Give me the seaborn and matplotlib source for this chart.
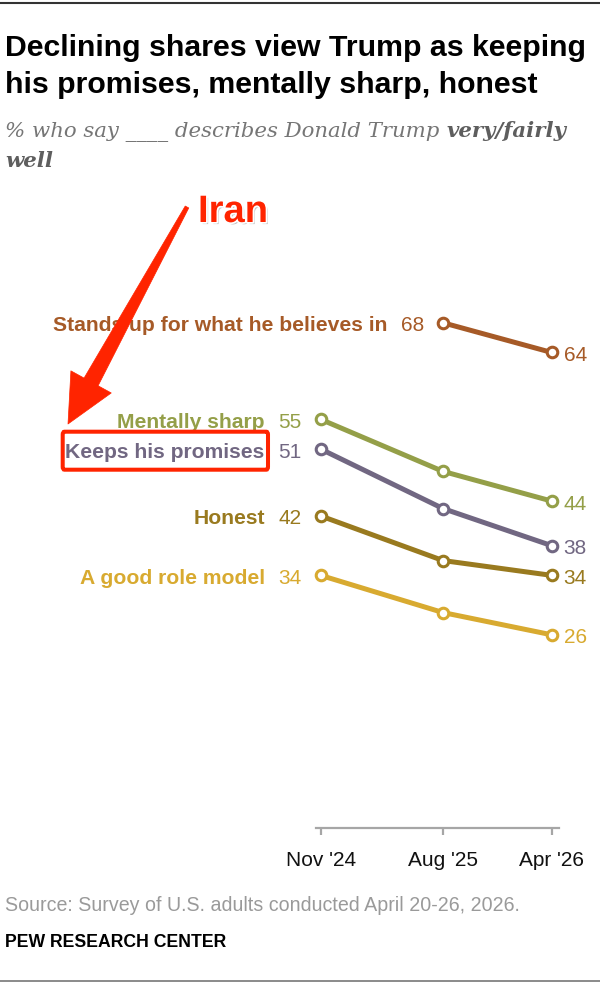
import numpy as np
import pandas as pd
import matplotlib
matplotlib.use("Agg")
import matplotlib.pyplot as plt
import matplotlib.dates as mdates
import matplotlib.patheffects as pe
from matplotlib.patches import Polygon, FancyBboxPatch
from matplotlib.lines import Line2D
import seaborn as sns

# ---------------- data ----------------
survey_dates = ["2024-11-01", "2025-08-01", "2026-04-01"]
tick_labels = ["Nov '24", "Aug '25", "Apr '26"]
traits = ["Stands up for what he believes in", "Mentally sharp",
          "Keeps his promises", "Honest", "A good role model"]
stands_up = [np.nan, 68, 64]
mentally_sharp = [55, 48, 44]
keeps_promises = [51, 43, 38]
honest = [42, 36, 34]
role_model = [34, 29, 26]
trait_colors = ["#A65A27", "#949F48", "#716782", "#997A1F", "#D8AA30"]

title_lines = ["Declining shares view Trump as keeping",
               "his promises, mentally sharp, honest"]
subtitle_plain = "% who say ____ describes Donald Trump "
subtitle_bold1 = "very/fairly"
subtitle_bold2 = "well"
source_text = "Source: Survey of U.S. adults conducted April 20-26, 2026."
org_text = "PEW RESEARCH CENTER"
annot_text = "Iran"
annot_target = "Keeps his promises"

series = [stands_up, mentally_sharp, keeps_promises, honest, role_model]
dates = pd.to_datetime(survey_dates)
df = pd.DataFrame({
    "date": np.tile(dates, len(traits)),
    "value": np.concatenate([np.array(s, dtype=float) for s in series]),
    "trait": np.repeat(traits, len(dates)),
})
palette = dict(zip(traits, trait_colors))

# ---------------- figure ----------------
sns.set_theme(style="white")
plt.rcParams["font.family"] = ["Liberation Sans", "DejaVu Sans"]
W, H = 600, 987
fig = plt.figure(figsize=(W / 100, H / 100), dpi=100)

def fx(x):
    return x / W

def fy(y):
    return 1 - y / H

# pixel geometry of the plotting area
px_first, px_last = 320.7, 551.7     # x pixel of first/last survey date
px_zero, px_per_unit = 829.0, 7.43   # y pixel of value 0, pixels per point
ax_left, ax_right, ax_top = 290, 580, 290

d0 = mdates.date2num(dates[0])
d2 = mdates.date2num(dates[-1])
ppd = (px_last - px_first) / (d2 - d0)
ax = fig.add_axes([fx(ax_left), fy(px_zero), (ax_right - ax_left) / W,
                   (px_zero - ax_top) / H])
ax.set_xlim(d0 - (px_first - ax_left) / ppd, d2 + (ax_right - px_last) / ppd)
ax.set_ylim(0, (px_zero - ax_top) / px_per_unit)

sns.lineplot(data=df.dropna(), x="date", y="value", hue="trait",
             palette=palette, hue_order=traits, ax=ax, legend=False,
             linewidth=3.6, marker="o", markersize=7.6,
             markerfacecolor="white", markeredgewidth=2.2)
for ln in ax.lines:
    ln.set_markeredgecolor(ln.get_color())
    ln.set_clip_on(False)
    ln.set_solid_capstyle("round")

# axis styling
for side in ["top", "right", "left"]:
    ax.spines[side].set_visible(False)
ax.spines["bottom"].set_color("#A6A6A6")
ax.spines["bottom"].set_linewidth(1.6)
ax.spines["bottom"].set_bounds(d0 - 5 / ppd, d2 + 7 / ppd)
ax.set_yticks([])
ax.set_xticks(dates)
ax.set_xticklabels(tick_labels)
ax.tick_params(axis="x", bottom=True, direction="out", length=5, width=1.6,
               color="#A6A6A6", pad=11, labelsize=15, labelcolor="#111111")
ax.set_xlabel("")
ax.set_ylabel("")
ax.patch.set_alpha(0)

# ---------------- end labels ----------------
for name, vals, col in zip(traits, series, trait_colors):
    vals = np.array(vals, dtype=float)
    idx = np.where(~np.isnan(vals))[0]
    i0, i1 = idx[0], idx[-1]
    ax.annotate(f"{int(vals[i0])}", xy=(dates[i0], vals[i0]), xytext=(-19, 0),
                textcoords="offset pixels", ha="right", va="center_baseline",
                fontsize=15, color=col, annotation_clip=False)
    ax.annotate(name, xy=(dates[i0], vals[i0]), xytext=(-56, 0),
                textcoords="offset pixels", ha="right", va="center_baseline",
                fontsize=15.2, fontweight="bold", color=col,
                annotation_clip=False)
    ax.annotate(f"{int(vals[i1])}", xy=(dates[i1], vals[i1]), xytext=(12, 0),
                textcoords="offset pixels", ha="left", va="center_baseline",
                fontsize=15, color=col, annotation_clip=False)

# ---------------- header / footer ----------------
fig.add_artist(Line2D([0, 1], [fy(4), fy(4)], color="#333333", lw=1.5,
                      transform=fig.transFigure))
fig.add_artist(Line2D([0, 1], [fy(982), fy(982)], color="#777777", lw=1.2,
                      transform=fig.transFigure))

fig.text(fx(5), fy(56), title_lines[0], fontsize=21.8, fontweight="bold",
         color="#000000", ha="left", va="baseline")
fig.text(fx(5), fy(93), title_lines[1], fontsize=21.8, fontweight="bold",
         color="#000000", ha="left", va="baseline")

renderer = fig.canvas.get_renderer()
serif = ["DejaVu Serif"]
t1 = fig.text(fx(5), fy(137), subtitle_plain, fontsize=15.3, style="italic",
              family=serif, color="#767676", ha="left", va="baseline")
bb = t1.get_window_extent(renderer)
fig.text((bb.x1) / W, fy(137), subtitle_bold1, fontsize=15.3, style="italic",
         fontweight="bold", family=serif, color="#5E5E5E", ha="left",
         va="baseline")
fig.text(fx(5), fy(167), subtitle_bold2, fontsize=15.3, style="italic",
         fontweight="bold", family=serif, color="#5E5E5E", ha="left",
         va="baseline")

fig.text(fx(5), fy(911), source_text, fontsize=14.1, color="#9A9A9A",
         ha="left", va="baseline")
fig.text(fx(5), fy(947), org_text, fontsize=12.7, fontweight="bold",
         color="#000000", ha="left", va="baseline")

# ---------------- annotation: red box, arrow, "Iran" ----------------
red = "#FF2400"
box = FancyBboxPatch((fx(62.7), fy(470.7)), (268 - 62.7) / W, (470.7 - 432.7) / H,
                     boxstyle="round,pad=0,rounding_size=0.003",
                     transform=fig.transFigure, fill=False, edgecolor=red,
                     linewidth=2.9, zorder=5)
fig.add_artist(box)

tail = np.array([187.0, 208.0])
tip = np.array([68.0, 425.0])
u = (tip - tail) / np.linalg.norm(tip - tail)
n = np.array([-u[1], u[0]])
base = tip - u * 48
pts = [tail + n * 2.0, base + n * 8, base + n * 23, tip,
       base - n * 23, base - n * 8, tail - n * 2.0]
arrow = Polygon([(fx(p[0]), fy(p[1])) for p in pts], closed=True,
                transform=fig.transFigure, facecolor=red, edgecolor=red,
                linewidth=0.5, joinstyle="round", zorder=6)
fig.add_artist(arrow)

fig.text(fx(198), fy(223), annot_text, fontsize=27.5, fontweight="bold",
         color=red, ha="left", va="baseline", zorder=7,
         path_effects=[pe.withSimplePatchShadow(offset=(1.5, -1.5),
                                                shadow_rgbFace="#888888",
                                                alpha=0.5),
                       pe.Stroke(linewidth=2.5, foreground="white"),
                       pe.Normal()])

fig.savefig("out.png", dpi=100)
